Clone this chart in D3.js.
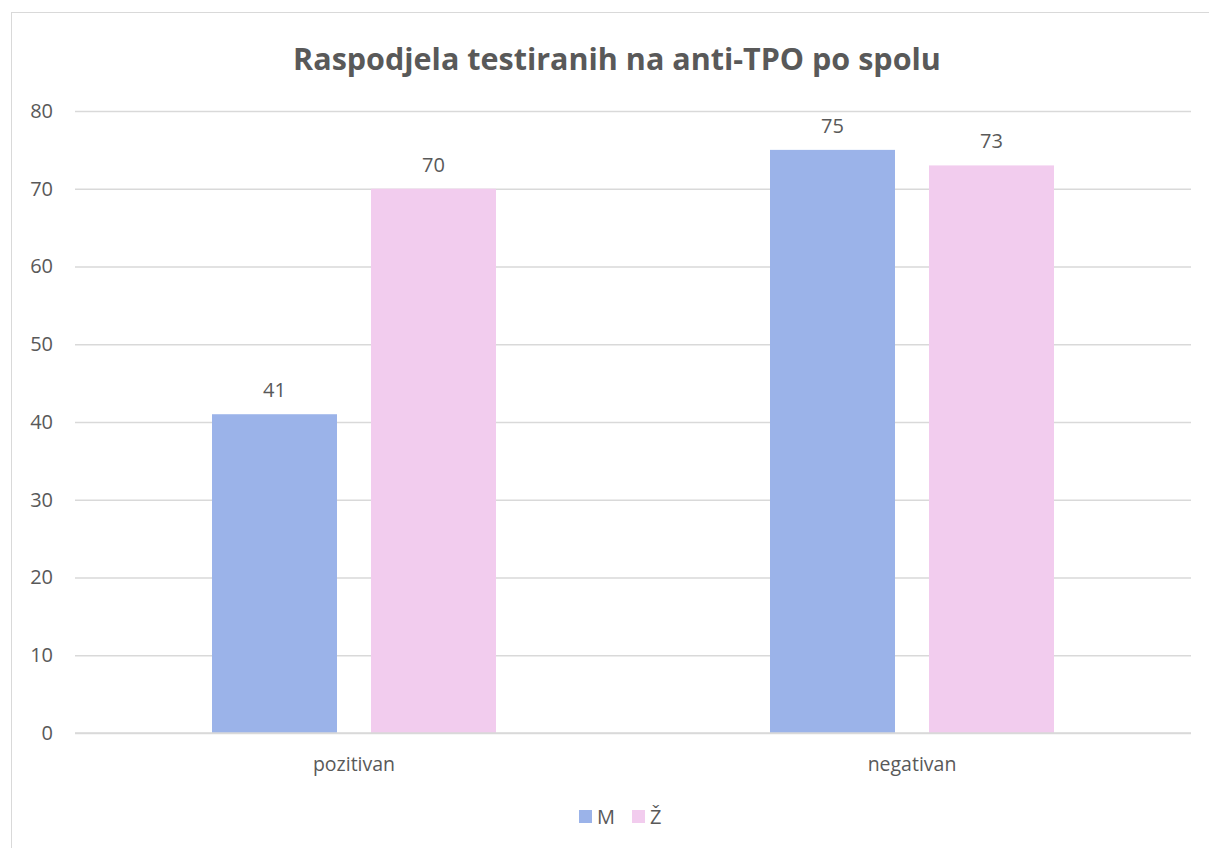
<!DOCTYPE html>
<html lang='hr'>
<head>
    <meta charset='UTF-8'>
    <title>Raspodjela testiranih na anti-TPO po spolu</title>
    <script src='https://d3js.org/d3.v7.min.js' charset='utf-8'></script>
    <style>
        body { margin: 0; background: #fff; overflow: hidden; }
        text { font-family: 'Open Sans', sans-serif; fill: #595959; }
    </style>
</head>
<body>
    <div id='chart'></div>
    <script>
        'use strict';

        const categories = ['pozitivan', 'negativan'];
        const seriesNames = ['M', 'Ž'];
        const valuesM = [41, 75];
        const valuesZ = [70, 73];
        const yTicks = [0, 10, 20, 30, 40, 50, 60, 70, 80];
        const colors = ['#9BB3E9', '#F2CCEE'];

        const W = 1209, H = 848;
        const margin = { top: 111, right: 18, bottom: 115, left: 75 },
            width = W - margin.left - margin.right,
            height = H - margin.top - margin.bottom;

        const svg = d3.select('#chart')
            .append('svg')
            .attr('width', W)
            .attr('height', H);

        // chart border (runs off the right and bottom edge)
        svg.append('rect')
            .attr('x', 11.5).attr('y', 12.5)
            .attr('width', W + 20).attr('height', H + 20)
            .attr('fill', 'none')
            .attr('stroke', '#d9d9d9')
            .attr('stroke-width', 1);

        svg.append('text')
            .attr('x', 617).attr('y', 70)
            .attr('text-anchor', 'middle')
            .style('font-size', '30.5px')
            .style('font-weight', 'bold')
            .text('Raspodjela testiranih na anti-TPO po spolu');

        const g = svg.append('g')
            .attr('transform', `translate(${margin.left}, ${margin.top})`);

        const x = d3.scaleBand()
            .domain(categories)
            .range([0, width]);

        const xInner = d3.scaleBand()
            .domain(seriesNames)
            .range([0, 284])
            .paddingInner(34 / 159);

        const y = d3.scaleLinear()
            .domain([0, 80])
            .range([height, 0]);

        // gridlines
        g.append('g')
            .call(d3.axisLeft(y).tickValues(yTicks).tickSize(-width).tickFormat(''))
            .call(a => a.select('.domain').remove())
            .call(a => a.selectAll('line').attr('stroke', '#d9d9d9').attr('stroke-width', 1.3));

        // y labels
        g.append('g')
            .call(d3.axisLeft(y).tickValues(yTicks).tickSize(0).tickPadding(22))
            .call(a => a.select('.domain').remove())
            .call(a => a.selectAll('text').style('font-size', '20px').style('fill', '#595959'));

        const data = categories.map((c, i) => ({
            key: c,
            values: [{ s: 'M', v: valuesM[i] }, { s: 'Ž', v: valuesZ[i] }]
        }));

        const groups = g.selectAll('.cat')
            .data(data)
            .enter()
            .append('g')
            .attr('transform', d => `translate(${x(d.key) + (x.bandwidth() - 284) / 2}, 0)`);

        groups.selectAll('rect')
            .data(d => d.values)
            .enter()
            .append('rect')
            .attr('x', d => xInner(d.s))
            .attr('y', d => y(d.v))
            .attr('width', xInner.bandwidth())
            .attr('height', d => height - y(d.v))
            .attr('fill', (d, i) => colors[i]);

        groups.selectAll('.lbl')
            .data(d => d.values)
            .enter()
            .append('text')
            .attr('x', d => xInner(d.s) + xInner.bandwidth() / 2)
            .attr('y', d => y(d.v) - 17)
            .attr('text-anchor', 'middle')
            .style('font-size', '20px')
            .text(d => d.v);

        // x axis line
        g.append('line')
            .attr('x1', 0).attr('x2', width)
            .attr('y1', height).attr('y2', height)
            .attr('stroke', '#d9d9d9')
            .attr('stroke-width', 1.3);

        g.append('g')
            .attr('transform', `translate(0, ${height})`)
            .call(d3.axisBottom(x).tickSize(0).tickPadding(24))
            .call(a => a.select('.domain').remove())
            .call(a => a.selectAll('text').style('font-size', '19.5px').style('fill', '#595959'));

        // legend
        const legendX = [579, 632];
        const legend = svg.append('g');
        seriesNames.forEach((s, i) => {
            legend.append('rect')
                .attr('x', legendX[i]).attr('y', 810)
                .attr('width', 13).attr('height', 13)
                .attr('fill', colors[i]);
            legend.append('text')
                .attr('x', legendX[i] + 18).attr('y', 824)
                .style('font-size', '20px')
                .text(s);
        });
    </script>
</body>
</html>
